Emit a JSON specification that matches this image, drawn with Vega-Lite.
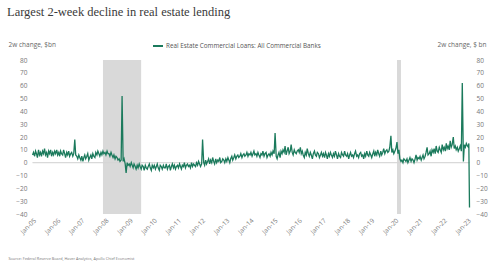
{
  "$schema": "https://vega.github.io/schema/vega-lite/v6.json",
  "autosize": {"type": "none"},
  "width": 443,
  "height": 154,
  "padding": {"left": 30, "top": 60, "right": 27, "bottom": 51},
  "background": "white",
  "title": {"text": "Largest 2-week decline in real estate lending", "anchor": "start", "frame": "group", "font": "Liberation Serif", "fontSize": 12.5, "fontWeight": "normal", "color": "#3a3a3a", "dx": -23, "dy": -22, "offset": 0},
  "config": {
    "view": {"stroke": null},
    "axis": {"labelFont": "Open Sans", "labelFontSize": 6.5, "labelColor": "#777777", "domain": false, "ticks": false, "grid": false, "titleFont": "Open Sans", "titleFontWeight": "normal", "titleColor": "#666666"},
    "axisX": {"labelOverlap": false, "labelAngle": -45, "labelPadding": 3},
    "legend": {"labelFont": "Open Sans"}
  },
  "datasets": {
    "rec": [{"d": "2007-12-01", "e": "2009-06-30"}, {"d": "2020-02-01", "e": "2020-04-01"}],
    "s": [
{"d":"2005-01-01","v":6},{"d":"2005-01-15","v":8},{"d":"2005-02-01","v":5},{"d":"2005-02-15","v":9},{"d":"2005-03-01","v":7},{"d":"2005-03-15","v":4},{"d":"2005-04-01","v":10},{"d":"2005-04-15","v":6},{"d":"2005-05-01","v":8},{"d":"2005-05-15","v":5},{"d":"2005-06-01","v":9},{"d":"2005-06-15","v":7},{"d":"2005-07-01","v":11},{"d":"2005-07-15","v":6},{"d":"2005-08-01","v":8},{"d":"2005-08-15","v":4},{"d":"2005-09-01","v":9},{"d":"2005-09-15","v":7},{"d":"2005-10-01","v":10},{"d":"2005-10-15","v":5},{"d":"2005-11-01","v":8},{"d":"2005-11-15","v":6},{"d":"2005-12-01","v":9},{"d":"2005-12-15","v":7},
{"d":"2006-01-01","v":10},{"d":"2006-01-15","v":6},{"d":"2006-02-01","v":8},{"d":"2006-02-15","v":5},{"d":"2006-03-01","v":9},{"d":"2006-03-15","v":7},{"d":"2006-04-01","v":6},{"d":"2006-04-15","v":10},{"d":"2006-05-01","v":7},{"d":"2006-05-15","v":4},{"d":"2006-06-01","v":8},{"d":"2006-06-15","v":6},{"d":"2006-07-01","v":9},{"d":"2006-07-15","v":5},{"d":"2006-08-01","v":7},{"d":"2006-08-15","v":8},{"d":"2006-09-01","v":5},{"d":"2006-09-15","v":7},{"d":"2006-10-01","v":18},{"d":"2006-10-15","v":6},{"d":"2006-11-01","v":5},{"d":"2006-11-15","v":3},{"d":"2006-12-01","v":6},{"d":"2006-12-15","v":4},
{"d":"2007-01-01","v":2},{"d":"2007-01-15","v":5},{"d":"2007-02-01","v":1},{"d":"2007-02-15","v":4},{"d":"2007-03-01","v":6},{"d":"2007-03-15","v":3},{"d":"2007-04-01","v":5},{"d":"2007-04-15","v":7},{"d":"2007-05-01","v":2},{"d":"2007-05-15","v":4},{"d":"2007-06-01","v":6},{"d":"2007-06-15","v":3},{"d":"2007-07-01","v":7},{"d":"2007-07-15","v":5},{"d":"2007-08-01","v":4},{"d":"2007-08-15","v":8},{"d":"2007-09-01","v":6},{"d":"2007-09-15","v":9},{"d":"2007-10-01","v":7},{"d":"2007-10-15","v":5},{"d":"2007-11-01","v":8},{"d":"2007-11-15","v":6},{"d":"2007-12-01","v":9},{"d":"2007-12-15","v":7},
{"d":"2008-01-01","v":8},{"d":"2008-01-15","v":6},{"d":"2008-02-01","v":9},{"d":"2008-02-15","v":7},{"d":"2008-03-01","v":7},{"d":"2008-03-15","v":5},{"d":"2008-04-01","v":8},{"d":"2008-04-15","v":6},{"d":"2008-05-01","v":4},{"d":"2008-05-15","v":6},{"d":"2008-06-01","v":3},{"d":"2008-06-15","v":5},{"d":"2008-07-01","v":4},{"d":"2008-07-15","v":2},{"d":"2008-08-01","v":3},{"d":"2008-08-15","v":1},{"d":"2008-09-01","v":2},{"d":"2008-09-15","v":52},{"d":"2008-10-01","v":1},{"d":"2008-10-15","v":3},{"d":"2008-11-01","v":-1},{"d":"2008-11-15","v":-8},{"d":"2008-12-01","v":0},{"d":"2008-12-15","v":-2},
{"d":"2009-01-01","v":-1},{"d":"2009-01-15","v":-3},{"d":"2009-02-01","v":0},{"d":"2009-02-15","v":-2},{"d":"2009-03-01","v":-4},{"d":"2009-03-15","v":-1},{"d":"2009-04-01","v":-3},{"d":"2009-04-15","v":-5},{"d":"2009-05-01","v":-2},{"d":"2009-05-15","v":-4},{"d":"2009-06-01","v":-1},{"d":"2009-06-15","v":-3},{"d":"2009-07-01","v":-5},{"d":"2009-07-15","v":-2},{"d":"2009-08-01","v":-3},{"d":"2009-08-15","v":-6},{"d":"2009-09-01","v":-2},{"d":"2009-09-15","v":-4},{"d":"2009-10-01","v":-5},{"d":"2009-10-15","v":-3},{"d":"2009-11-01","v":-1},{"d":"2009-11-15","v":-4},{"d":"2009-12-01","v":-6},{"d":"2009-12-15","v":-2},
{"d":"2010-01-01","v":-4},{"d":"2010-01-15","v":-2},{"d":"2010-02-01","v":-5},{"d":"2010-02-15","v":-3},{"d":"2010-03-01","v":-1},{"d":"2010-03-15","v":-4},{"d":"2010-04-01","v":-6},{"d":"2010-04-15","v":-2},{"d":"2010-05-01","v":-3},{"d":"2010-05-15","v":-5},{"d":"2010-06-01","v":-2},{"d":"2010-06-15","v":-4},{"d":"2010-07-01","v":-4},{"d":"2010-07-15","v":-1},{"d":"2010-08-01","v":-5},{"d":"2010-08-15","v":-3},{"d":"2010-09-01","v":-2},{"d":"2010-09-15","v":-6},{"d":"2010-10-01","v":-3},{"d":"2010-10-15","v":-1},{"d":"2010-11-01","v":-4},{"d":"2010-11-15","v":-2},{"d":"2010-12-01","v":-5},{"d":"2010-12-15","v":-3},
{"d":"2011-01-01","v":-2},{"d":"2011-01-15","v":-4},{"d":"2011-02-01","v":-1},{"d":"2011-02-15","v":-3},{"d":"2011-03-01","v":-5},{"d":"2011-03-15","v":-2},{"d":"2011-04-01","v":-3},{"d":"2011-04-15","v":0},{"d":"2011-05-01","v":-4},{"d":"2011-05-15","v":-2},{"d":"2011-06-01","v":-1},{"d":"2011-06-15","v":-3},{"d":"2011-07-01","v":-2},{"d":"2011-07-15","v":-4},{"d":"2011-08-01","v":0},{"d":"2011-08-15","v":-3},{"d":"2011-09-01","v":-1},{"d":"2011-09-15","v":-2},{"d":"2011-10-01","v":-3},{"d":"2011-10-15","v":0},{"d":"2011-11-01","v":-2},{"d":"2011-11-15","v":1},{"d":"2011-12-01","v":-1},{"d":"2011-12-15","v":-3},
{"d":"2012-01-01","v":-1},{"d":"2012-01-15","v":18},{"d":"2012-02-01","v":0},{"d":"2012-02-15","v":-2},{"d":"2012-03-01","v":2},{"d":"2012-03-15","v":-1},{"d":"2012-04-01","v":1},{"d":"2012-04-15","v":3},{"d":"2012-05-01","v":-1},{"d":"2012-05-15","v":2},{"d":"2012-06-01","v":0},{"d":"2012-06-15","v":4},{"d":"2012-07-01","v":1},{"d":"2012-07-15","v":-1},{"d":"2012-08-01","v":3},{"d":"2012-08-15","v":0},{"d":"2012-09-01","v":2},{"d":"2012-09-15","v":1},{"d":"2012-10-01","v":4},{"d":"2012-10-15","v":0},{"d":"2012-11-01","v":1},{"d":"2012-11-15","v":3},{"d":"2012-12-01","v":2},{"d":"2012-12-15","v":0},
{"d":"2013-01-01","v":3},{"d":"2013-01-15","v":1},{"d":"2013-02-01","v":4},{"d":"2013-02-15","v":2},{"d":"2013-03-01","v":0},{"d":"2013-03-15","v":3},{"d":"2013-04-01","v":5},{"d":"2013-04-15","v":2},{"d":"2013-05-01","v":4},{"d":"2013-05-15","v":6},{"d":"2013-06-01","v":3},{"d":"2013-06-15","v":5},{"d":"2013-07-01","v":6},{"d":"2013-07-15","v":4},{"d":"2013-08-01","v":5},{"d":"2013-08-15","v":7},{"d":"2013-09-01","v":4},{"d":"2013-09-15","v":6},{"d":"2013-10-01","v":7},{"d":"2013-10-15","v":5},{"d":"2013-11-01","v":6},{"d":"2013-11-15","v":8},{"d":"2013-12-01","v":5},{"d":"2013-12-15","v":7},
{"d":"2014-01-01","v":6},{"d":"2014-01-15","v":8},{"d":"2014-02-01","v":5},{"d":"2014-02-15","v":7},{"d":"2014-03-01","v":9},{"d":"2014-03-15","v":6},{"d":"2014-04-01","v":7},{"d":"2014-04-15","v":5},{"d":"2014-05-01","v":8},{"d":"2014-05-15","v":6},{"d":"2014-06-01","v":4},{"d":"2014-06-15","v":7},{"d":"2014-07-01","v":6},{"d":"2014-07-15","v":9},{"d":"2014-08-01","v":5},{"d":"2014-08-15","v":7},{"d":"2014-09-01","v":8},{"d":"2014-09-15","v":4},{"d":"2014-10-01","v":6},{"d":"2014-10-15","v":7},{"d":"2014-11-01","v":5},{"d":"2014-11-15","v":8},{"d":"2014-12-01","v":6},{"d":"2014-12-15","v":9},
{"d":"2015-01-01","v":7},{"d":"2015-01-15","v":23},{"d":"2015-02-01","v":5},{"d":"2015-02-15","v":3},{"d":"2015-03-01","v":6},{"d":"2015-03-15","v":8},{"d":"2015-04-01","v":4},{"d":"2015-04-15","v":9},{"d":"2015-05-01","v":7},{"d":"2015-05-15","v":10},{"d":"2015-06-01","v":8},{"d":"2015-06-15","v":13},{"d":"2015-07-01","v":6},{"d":"2015-07-15","v":9},{"d":"2015-08-01","v":12},{"d":"2015-08-15","v":7},{"d":"2015-09-01","v":9},{"d":"2015-09-15","v":14},{"d":"2015-10-01","v":8},{"d":"2015-10-15","v":6},{"d":"2015-11-01","v":10},{"d":"2015-11-15","v":8},{"d":"2015-12-01","v":7},{"d":"2015-12-15","v":9},
{"d":"2016-01-01","v":10},{"d":"2016-01-15","v":8},{"d":"2016-02-01","v":12},{"d":"2016-02-15","v":7},{"d":"2016-03-01","v":9},{"d":"2016-03-15","v":6},{"d":"2016-04-01","v":4},{"d":"2016-04-15","v":8},{"d":"2016-05-01","v":6},{"d":"2016-05-15","v":11},{"d":"2016-06-01","v":7},{"d":"2016-06-15","v":5},{"d":"2016-07-01","v":8},{"d":"2016-07-15","v":6},{"d":"2016-08-01","v":3},{"d":"2016-08-15","v":7},{"d":"2016-09-01","v":9},{"d":"2016-09-15","v":6},{"d":"2016-10-01","v":5},{"d":"2016-10-15","v":8},{"d":"2016-11-01","v":7},{"d":"2016-11-15","v":4},{"d":"2016-12-01","v":6},{"d":"2016-12-15","v":8},
{"d":"2017-01-01","v":5},{"d":"2017-01-15","v":7},{"d":"2017-02-01","v":4},{"d":"2017-02-15","v":8},{"d":"2017-03-01","v":6},{"d":"2017-03-15","v":3},{"d":"2017-04-01","v":7},{"d":"2017-04-15","v":5},{"d":"2017-05-01","v":8},{"d":"2017-05-15","v":6},{"d":"2017-06-01","v":4},{"d":"2017-06-15","v":7},{"d":"2017-07-01","v":5},{"d":"2017-07-15","v":9},{"d":"2017-08-01","v":6},{"d":"2017-08-15","v":3},{"d":"2017-09-01","v":7},{"d":"2017-09-15","v":5},{"d":"2017-10-01","v":4},{"d":"2017-10-15","v":8},{"d":"2017-11-01","v":6},{"d":"2017-11-15","v":5},{"d":"2017-12-01","v":9},{"d":"2017-12-15","v":6},
{"d":"2018-01-01","v":5},{"d":"2018-01-15","v":7},{"d":"2018-02-01","v":3},{"d":"2018-02-15","v":6},{"d":"2018-03-01","v":8},{"d":"2018-03-15","v":5},{"d":"2018-04-01","v":6},{"d":"2018-04-15","v":4},{"d":"2018-05-01","v":7},{"d":"2018-05-15","v":9},{"d":"2018-06-01","v":5},{"d":"2018-06-15","v":6},{"d":"2018-07-01","v":4},{"d":"2018-07-15","v":7},{"d":"2018-08-01","v":8},{"d":"2018-08-15","v":5},{"d":"2018-09-01","v":6},{"d":"2018-09-15","v":3},{"d":"2018-10-01","v":7},{"d":"2018-10-15","v":5},{"d":"2018-11-01","v":9},{"d":"2018-11-15","v":6},{"d":"2018-12-01","v":5},{"d":"2018-12-15","v":8},
{"d":"2019-01-01","v":6},{"d":"2019-01-15","v":4},{"d":"2019-02-01","v":7},{"d":"2019-02-15","v":9},{"d":"2019-03-01","v":5},{"d":"2019-03-15","v":8},{"d":"2019-04-01","v":6},{"d":"2019-04-15","v":10},{"d":"2019-05-01","v":7},{"d":"2019-05-15","v":5},{"d":"2019-06-01","v":9},{"d":"2019-06-15","v":6},{"d":"2019-07-01","v":8},{"d":"2019-07-15","v":11},{"d":"2019-08-01","v":7},{"d":"2019-08-15","v":9},{"d":"2019-09-01","v":10},{"d":"2019-09-15","v":8},{"d":"2019-10-01","v":9},{"d":"2019-10-15","v":12},{"d":"2019-11-01","v":21},{"d":"2019-11-15","v":8},{"d":"2019-12-01","v":10},{"d":"2019-12-15","v":7},
{"d":"2020-01-01","v":9},{"d":"2020-01-15","v":11},{"d":"2020-02-01","v":16},{"d":"2020-02-15","v":7},{"d":"2020-03-01","v":10},{"d":"2020-03-15","v":3},{"d":"2020-04-01","v":1},{"d":"2020-04-15","v":2},{"d":"2020-05-01","v":0},{"d":"2020-05-15","v":3},{"d":"2020-06-01","v":2},{"d":"2020-06-15","v":1},{"d":"2020-07-01","v":3},{"d":"2020-07-15","v":0},{"d":"2020-08-01","v":2},{"d":"2020-08-15","v":4},{"d":"2020-09-01","v":1},{"d":"2020-09-15","v":3},{"d":"2020-10-01","v":2},{"d":"2020-10-15","v":0},{"d":"2020-11-01","v":3},{"d":"2020-11-15","v":6},{"d":"2020-12-01","v":2},{"d":"2020-12-15","v":4},
{"d":"2021-01-01","v":3},{"d":"2021-01-15","v":5},{"d":"2021-02-01","v":2},{"d":"2021-02-15","v":4},{"d":"2021-03-01","v":6},{"d":"2021-03-15","v":3},{"d":"2021-04-01","v":5},{"d":"2021-04-15","v":8},{"d":"2021-05-01","v":12},{"d":"2021-05-15","v":6},{"d":"2021-06-01","v":7},{"d":"2021-06-15","v":9},{"d":"2021-07-01","v":5},{"d":"2021-07-15","v":10},{"d":"2021-08-01","v":8},{"d":"2021-08-15","v":11},{"d":"2021-09-01","v":7},{"d":"2021-09-15","v":13},{"d":"2021-10-01","v":9},{"d":"2021-10-15","v":8},{"d":"2021-11-01","v":12},{"d":"2021-11-15","v":10},{"d":"2021-12-01","v":8},{"d":"2021-12-15","v":14},
{"d":"2022-01-01","v":10},{"d":"2022-01-15","v":12},{"d":"2022-02-01","v":9},{"d":"2022-02-15","v":15},{"d":"2022-03-01","v":11},{"d":"2022-03-15","v":13},{"d":"2022-04-01","v":10},{"d":"2022-04-15","v":17},{"d":"2022-05-01","v":12},{"d":"2022-05-15","v":14},{"d":"2022-06-01","v":20},{"d":"2022-06-15","v":11},{"d":"2022-07-01","v":13},{"d":"2022-07-15","v":10},{"d":"2022-08-01","v":12},{"d":"2022-08-15","v":9},{"d":"2022-09-01","v":11},{"d":"2022-09-15","v":13},{"d":"2022-10-01","v":9},{"d":"2022-10-15","v":62},{"d":"2022-11-01","v":1},{"d":"2022-11-15","v":14},{"d":"2022-12-01","v":12},{"d":"2022-12-15","v":15},
{"d":"2023-01-01","v":13},{"d":"2023-01-15","v":12},{"d":"2023-01-22","v":15},{"d":"2023-02-01","v":-35}
    ]
  },
  "encoding": {
    "x": {"field": "d", "type": "temporal",
      "scale": {"domain": ["2004-11-23", "2023-03-26"]},
      "axis": {"values": [{"year":2005,"month":1,"date":1},{"year":2006,"month":1,"date":1},{"year":2007,"month":1,"date":1},{"year":2008,"month":1,"date":1},{"year":2009,"month":1,"date":1},{"year":2010,"month":1,"date":1},{"year":2011,"month":1,"date":1},{"year":2012,"month":1,"date":1},{"year":2013,"month":1,"date":1},{"year":2014,"month":1,"date":1},{"year":2015,"month":1,"date":1},{"year":2016,"month":1,"date":1},{"year":2017,"month":1,"date":1},{"year":2018,"month":1,"date":1},{"year":2019,"month":1,"date":1},{"year":2020,"month":1,"date":1},{"year":2021,"month":1,"date":1},{"year":2022,"month":1,"date":1},{"year":2023,"month":1,"date":1}],
        "format": "%b-%y", "labelAngle": -45, "labelPadding": 3, "labelOverlap": false,
        "title": "Source: Federal Reserve Board, Haver Analytics, Apollo Chief Economist", "titleFontSize": 3.8, "titleX": -22, "titleY": 44, "titleAlign": "left", "titleBaseline": "middle", "titleColor": "#777777"}}
  },
  "layer": [
    {
      "data": {"name": "rec"},
      "mark": {"type": "rect", "color": "#d9d9d9"},
      "encoding": {
        "x2": {"field": "e"}
      }
    },
    {
      "data": {"name": "rec"},
      "mark": {"type": "rule", "color": "#d4d4d4", "strokeWidth": 0.8},
      "encoding": {
        "x": {"datum": {"year": 2005, "month": 1, "date": 1}, "type": "temporal"},
        "x2": {"datum": {"year": 2023, "month": 2, "date": 1}},
        "y": {"datum": 0, "type": "quantitative", "scale": {"domain": [-40, 80], "nice": false, "zero": false},
          "axis": {"orient": "right", "values": [-40,-30,-20,-10,0,10,20,30,40,50,60,70,80], "labelPadding": 3, "title": "2w change, $ bn", "titleAngle": 0, "titleX": -36, "titleY": -16, "titleAlign": "left", "titleBaseline": "middle", "titleFontSize": 6.5}}
      }
    },
    {
      "data": {"name": "s"},
      "mark": {"type": "line", "strokeWidth": 1.3, "interpolate": "linear"},
      "encoding": {
        "y": {"field": "v", "type": "quantitative", "scale": {"domain": [-40, 80], "nice": false, "zero": false},
          "axis": {"orient": "left", "values": [-40,-30,-20,-10,0,10,20,30,40,50,60,70,80], "labelPadding": 3, "title": "2w change, $bn", "titleAngle": 0, "titleX": -22, "titleY": -16, "titleAlign": "left", "titleBaseline": "middle", "titleFontSize": 6.5}},
        "color": {"datum": "Real Estate Commercial Loans: All Commercial Banks", "type": "nominal",
          "scale": {"range": ["#1b7a5c"]},
          "legend": {"title": null, "orient": "none", "legendX": 122, "legendY": -20, "symbolType": "stroke", "symbolSize": 100, "symbolStrokeWidth": 2, "labelFontSize": 6.3, "labelColor": "#555555", "labelOffset": 2, "padding": 0}}
      }
    }
  ],
  "resolve": {"scale": {"y": "independent"}}
}
